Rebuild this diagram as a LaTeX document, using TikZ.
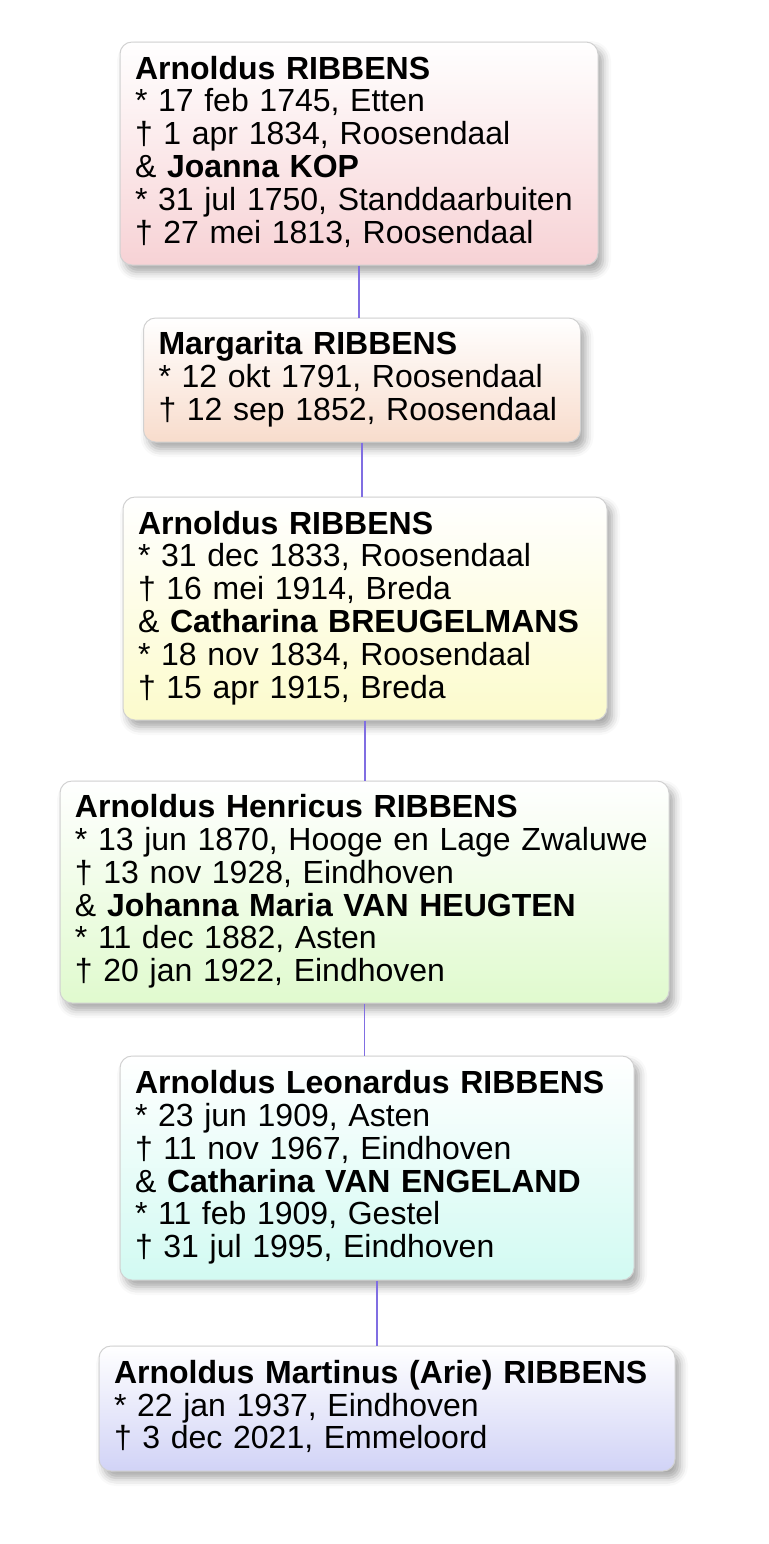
\documentclass[tikz,border=0pt]{standalone}
\usepackage{fontspec}
\setmainfont{Liberation Sans}
\usepackage{xcolor}
\usepackage{tikz}
\usetikzlibrary{shadows.blur}

\definecolor{roze}{RGB}{247,210,213}
\definecolor{perzik}{RGB}{248,220,204}
\definecolor{geel}{RGB}{252,251,204}
\definecolor{groen}{RGB}{224,250,206}
\definecolor{cyaan}{RGB}{210,250,242}
\definecolor{lila}{RGB}{209,211,246}
\definecolor{lijn}{RGB}{128,110,226}

\tikzset{
	persoon/.style={rectangle, rounded corners=6pt, draw=black!18, line width=0.5pt,
		align=left, inner xsep=7.5pt, inner ysep=0pt,
		execute at end node={\rule[-4pt]{0pt}{4pt}},
		font=\fontsize{16}{16.4}\selectfont,
		blur shadow={shadow xshift=2.5pt, shadow yshift=-3.5pt, shadow blur radius=4pt, shadow opacity=35}},
	tak/.style={draw=lijn, line width=0.8pt}
}

\begin{document}
\begin{tikzpicture}[x=0.5pt,y=-0.5pt]
	\useasboundingbox (0,0) rectangle (768,1544);
	
	% Generaties
	\node[persoon, top color=white, bottom color=roze, text width=224pt, minimum height=111.5pt] (gen1) at (359,153.5)
	{\textbf{Arnoldus RIBBENS}\\{*} 17 feb 1745, Etten\\† 1 apr 1834, Roosendaal\\\& \textbf{Joanna KOP}\\{*} 31 jul 1750, Standdaarbuiten\\† 27 mei 1813, Roosendaal};
	\node[persoon, top color=white, bottom color=perzik, text width=203.5pt, minimum height=62pt] (gen2) at (362,380)
	{\textbf{Margarita RIBBENS}\\{*} 12 okt 1791, Roosendaal\\† 12 sep 1852, Roosendaal};
	\node[persoon, top color=white, bottom color=geel, text width=227pt, minimum height=111.5pt] (gen3) at (365,608.5)
	{\textbf{Arnoldus RIBBENS}\\{*} 31 dec 1833, Roosendaal\\† 16 mei 1914, Breda\\\& \textbf{Catharina BREUGELMANS}\\{*} 18 nov 1834, Roosendaal\\† 15 apr 1915, Breda};
	\node[persoon, top color=white, bottom color=groen, text width=289.5pt, minimum height=111pt] (gen4) at (364.5,892)
	{\textbf{Arnoldus Henricus RIBBENS}\\{*} 13 jun 1870, Hooge en Lage Zwaluwe\\† 13 nov 1928, Eindhoven\\\& \textbf{Johanna Maria VAN HEUGTEN}\\{*} 11 dec 1882, Asten\\† 20 jan 1922, Eindhoven};
	\node[persoon, top color=white, bottom color=cyaan, text width=242pt, minimum height=112pt] (gen5) at (377,1168)
	{\textbf{Arnoldus Leonardus RIBBENS}\\{*} 23 jun 1909, Asten\\† 11 nov 1967, Eindhoven\\\& \textbf{Catharina VAN ENGELAND}\\{*} 11 feb 1909, Gestel\\† 31 jul 1995, Eindhoven};
	\node[persoon, top color=white, bottom color=lila, text width=273pt, minimum height=62.5pt] (gen6) at (387,1408.5)
	{\textbf{Arnoldus Martinus (Arie) RIBBENS}\\{*} 22 jan 1937, Eindhoven\\† 3 dec 2021, Emmeloord};
	
	% Afstammingslijnen
	\foreach \ouder/\kind in {gen1/gen2, gen2/gen3, gen3/gen4, gen4/gen5, gen5/gen6}
		\draw[tak] (\ouder.south) -- (\ouder.south |- \kind.north);
\end{tikzpicture}
\end{document}
